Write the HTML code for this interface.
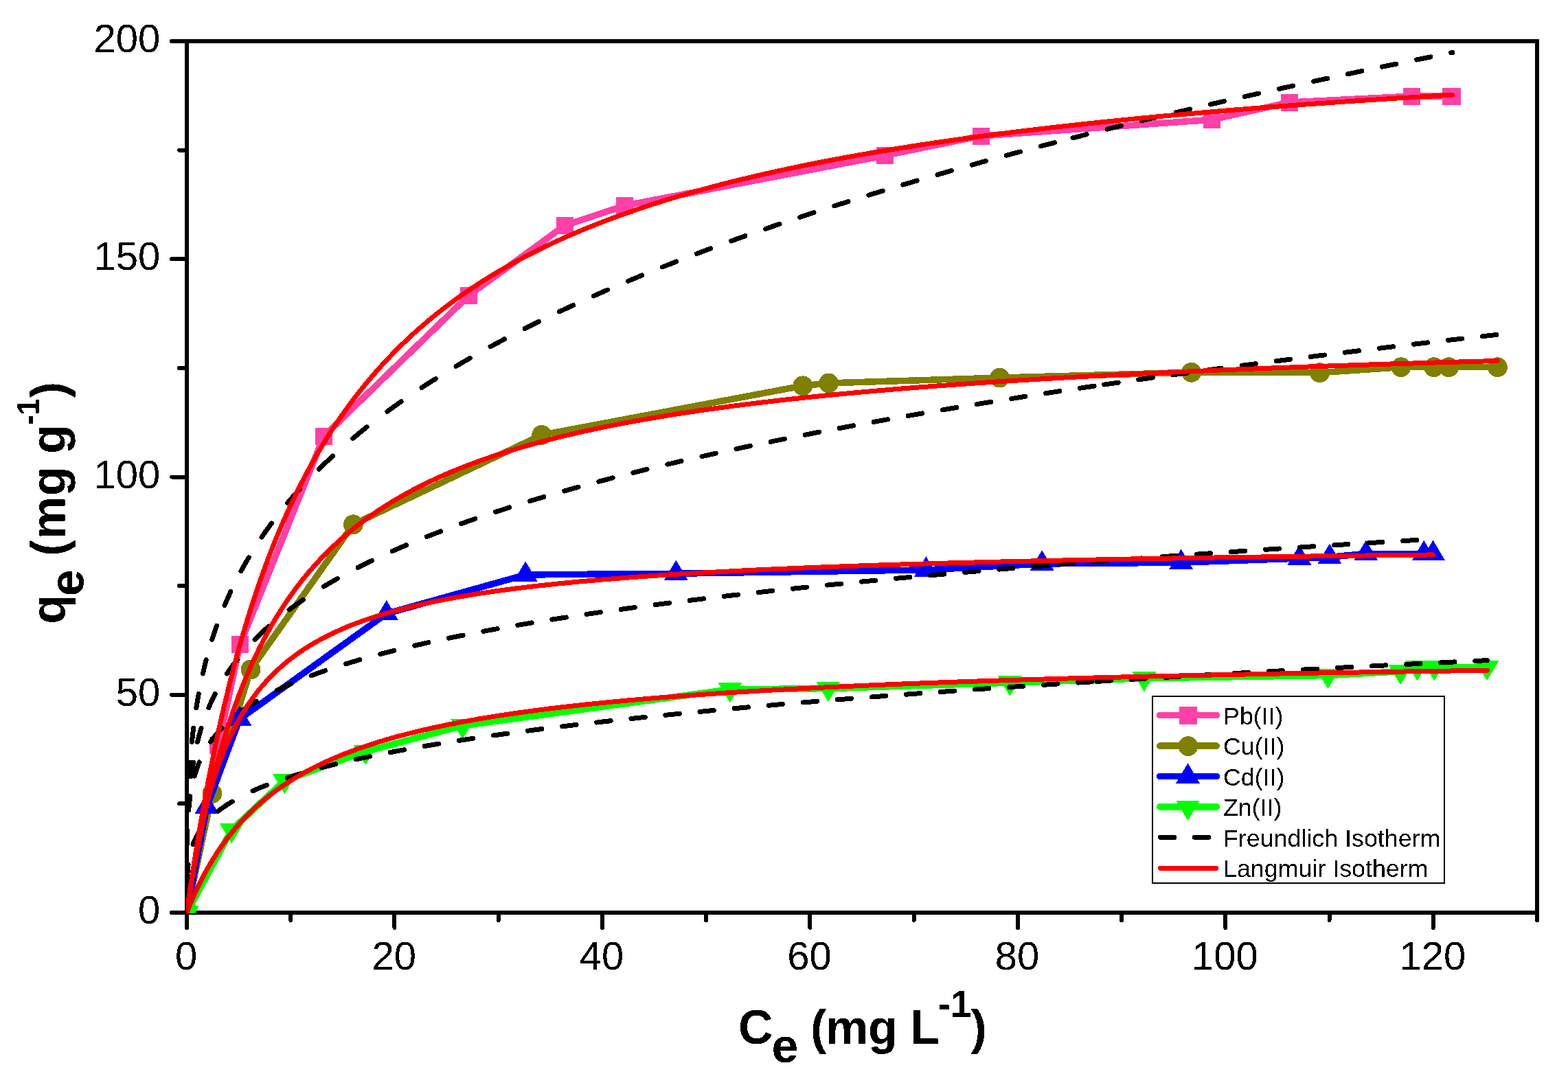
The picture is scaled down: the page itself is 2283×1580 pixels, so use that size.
<!DOCTYPE html>
<html lang="en"><head><meta charset="utf-8"><title>Adsorption isotherms</title>
<style>html,body{margin:0;padding:0;background:#fff}body{width:2283px;height:1580px;overflow:hidden}svg{display:block}text{font-family:"Liberation Sans",Arial,Helvetica,sans-serif;fill:#000}.tk{font-size:58px}.lg{font-size:35.8px}.ti{font-size:70px;font-weight:bold}</style>
</head><body>
<svg xmlns="http://www.w3.org/2000/svg" width="2283" height="1580" viewBox="0 0 2283 1580">
<rect width="2283" height="1580" fill="#fff"/>
<defs><filter id="bin" filterUnits="userSpaceOnUse" x="0" y="0" width="2283" height="1580" color-interpolation-filters="sRGB"><feComponentTransfer><feFuncA type="discrete" tableValues="0 1"/></feComponentTransfer></filter></defs>
<defs><clipPath id="cp"><rect x="271" y="60" width="1967" height="1270"/></clipPath></defs>
<g id="axes" stroke="#000" stroke-width="6" fill="none" stroke-linecap="round" stroke-linejoin="round" shape-rendering="crispEdges">
<rect x="272" y="60" width="1966" height="1269" stroke-linejoin="miter"/>
<path d="M272 1329V1351M423.23 1329V1340M574.46 1329V1351M725.69 1329V1340M876.92 1329V1351M1028.15 1329V1340M1179.38 1329V1351M1330.62 1329V1340M1481.85 1329V1351M1633.08 1329V1340M1784.31 1329V1351M1935.54 1329V1340M2086.77 1329V1351M2238 1329V1340M272 1329H250M272 1170.38H261M272 1011.75H250M272 853.12H261M272 694.5H250M272 535.88H261M272 377.25H250M272 218.62H261M272 60H250"/>
</g>
<g id="labels" filter="url(#bin)">
<g class="tk">
<text x="271.2" y="1411.5" text-anchor="middle">0</text>
<text x="573.66" y="1411.5" text-anchor="middle">20</text>
<text x="876.12" y="1411.5" text-anchor="middle">40</text>
<text x="1178.58" y="1411.5" text-anchor="middle">60</text>
<text x="1481.05" y="1411.5" text-anchor="middle">80</text>
<text x="1783.51" y="1411.5" text-anchor="middle">100</text>
<text x="2085.97" y="1411.5" text-anchor="middle">120</text>
<text x="233.3" y="1345.1" text-anchor="end">0</text>
<text x="233.3" y="1027.85" text-anchor="end">50</text>
<text x="233.3" y="710.6" text-anchor="end">100</text>
<text x="233.3" y="393.35" text-anchor="end">150</text>
<text x="233.3" y="76.1" text-anchor="end">200</text>
</g>
<text class="ti" y="1520.3"><tspan x="1075">C</tspan><tspan x="1123.45" dy="26.8">e</tspan><tspan x="1160.44 1179.9 1202.1 1264.1 1305.44 1324.9" dy="-26.8"> (mg L</tspan><tspan x="1365.4 1383.7" dy="-39.6" font-size="55.5">-1</tspan><tspan x="1413.5" dy="39.6">)</tspan></text>
<text class="ti" transform="translate(94.5 914) rotate(-90)" y="0"><tspan x="5.2">q</tspan><tspan x="45.8" dy="26.8">e</tspan><tspan x="84.69 104.15 128.66 191.8 233.54 253" dy="-26.8"> (mg g</tspan><tspan x="295.25 309.3" dy="-38" font-size="44">-1</tspan><tspan x="334.7" dy="38">)</tspan></text>
</g>
<g id="plot" clip-path="url(#cp)" shape-rendering="crispEdges">
<g id="s-pb">
<path d="M272 1329L317.8 1085.8L349.5 938.4L471.5 635.3L682.5 430.3L822 328.6L909.6 299.4L1288.5 226.5L1428 198L1764.2 174.3L1877.4 149L2055.5 140.1L2112.4 140.1L2114.6 140.1" fill="none" stroke="#ff40a6" stroke-width="9.5" stroke-linejoin="round" stroke-linecap="round"/>
<rect x="259.5" y="1316.5" width="25" height="25" fill="#ff40a6"/>
<rect x="305.3" y="1073.3" width="25" height="25" fill="#ff40a6"/>
<rect x="337" y="925.9" width="25" height="25" fill="#ff40a6"/>
<rect x="459" y="622.8" width="25" height="25" fill="#ff40a6"/>
<rect x="670" y="417.8" width="25" height="25" fill="#ff40a6"/>
<rect x="809.5" y="316.1" width="25" height="25" fill="#ff40a6"/>
<rect x="897.1" y="286.9" width="25" height="25" fill="#ff40a6"/>
<rect x="1276" y="214" width="25" height="25" fill="#ff40a6"/>
<rect x="1415.5" y="185.5" width="25" height="25" fill="#ff40a6"/>
<rect x="1751.7" y="161.8" width="25" height="25" fill="#ff40a6"/>
<rect x="1864.9" y="136.5" width="25" height="25" fill="#ff40a6"/>
<rect x="2043" y="127.6" width="25" height="25" fill="#ff40a6"/>
<rect x="2099.9" y="127.6" width="25" height="25" fill="#ff40a6"/>
<rect x="2102.1" y="127.6" width="25" height="25" fill="#ff40a6"/>
</g>
<g id="s-cu">
<path d="M272 1329L309 1155.5L364.9 975.1L514.3 763.8L788.7 633.4L1168.9 561.8L1206.5 557.9L1455.5 550.1L1734.6 542.3L1921.5 542.7L2039.9 534.7L2087.7 534.7L2109.4 534.7L2180.4 534.7" fill="none" stroke="#808000" stroke-width="9.5" stroke-linejoin="round" stroke-linecap="round"/>
<circle cx="272" cy="1329" r="14.4" fill="#808000"/>
<circle cx="309" cy="1155.5" r="14.4" fill="#808000"/>
<circle cx="364.9" cy="975.1" r="14.4" fill="#808000"/>
<circle cx="514.3" cy="763.8" r="14.4" fill="#808000"/>
<circle cx="788.7" cy="633.4" r="14.4" fill="#808000"/>
<circle cx="1168.9" cy="561.8" r="14.4" fill="#808000"/>
<circle cx="1206.5" cy="557.9" r="14.4" fill="#808000"/>
<circle cx="1455.5" cy="550.1" r="14.4" fill="#808000"/>
<circle cx="1734.6" cy="542.3" r="14.4" fill="#808000"/>
<circle cx="1921.5" cy="542.7" r="14.4" fill="#808000"/>
<circle cx="2039.9" cy="534.7" r="14.4" fill="#808000"/>
<circle cx="2087.7" cy="534.7" r="14.4" fill="#808000"/>
<circle cx="2109.4" cy="534.7" r="14.4" fill="#808000"/>
<circle cx="2180.4" cy="534.7" r="14.4" fill="#808000"/>
</g>
<g id="s-cd">
<path d="M272 1329L301 1175.1L348.9 1047.1L562.7 893.6L765.1 837L984.3 835.2L1348.4 829.9L1517.1 821L1719.6 819.2L1891.9 813.1L1935.9 811.3L1988.8 806.3L2073.2 806.3L2086.5 806.3" fill="none" stroke="#0000ff" stroke-width="9.5" stroke-linejoin="round" stroke-linecap="round"/>
<path d="M254.5 1338.8L289.5 1338.8L272 1309.4Z" fill="#0000ff"/>
<path d="M283.5 1184.9L318.5 1184.9L301 1155.5Z" fill="#0000ff"/>
<path d="M331.4 1056.9L366.4 1056.9L348.9 1027.5Z" fill="#0000ff"/>
<path d="M545.2 903.4L580.2 903.4L562.7 874Z" fill="#0000ff"/>
<path d="M747.6 846.8L782.6 846.8L765.1 817.4Z" fill="#0000ff"/>
<path d="M966.8 845L1001.8 845L984.3 815.6Z" fill="#0000ff"/>
<path d="M1330.9 839.7L1365.9 839.7L1348.4 810.3Z" fill="#0000ff"/>
<path d="M1499.6 830.8L1534.6 830.8L1517.1 801.4Z" fill="#0000ff"/>
<path d="M1702.1 829L1737.1 829L1719.6 799.6Z" fill="#0000ff"/>
<path d="M1874.4 822.9L1909.4 822.9L1891.9 793.5Z" fill="#0000ff"/>
<path d="M1918.4 821.1L1953.4 821.1L1935.9 791.7Z" fill="#0000ff"/>
<path d="M1971.3 816.1L2006.3 816.1L1988.8 786.7Z" fill="#0000ff"/>
<path d="M2055.7 816.1L2090.7 816.1L2073.2 786.7Z" fill="#0000ff"/>
<path d="M2069 816.1L2104 816.1L2086.5 786.7Z" fill="#0000ff"/>
</g>
<g id="s-zn">
<path d="M272 1329L337.2 1208.7L414.3 1136.7L532.1 1094.4L673.6 1056.8L1062.9 1003.9L1206 1002.6L1470.4 994.2L1666 987.8L1933.5 983.5L2039 977.7L2063.5 971.7L2088.3 971.7L2165 971.7" fill="none" stroke="#00ff00" stroke-width="9.5" stroke-linejoin="round" stroke-linecap="round"/>
<path d="M254.5 1319.2L289.5 1319.2L272 1348.6Z" fill="#00ff00"/>
<path d="M319.7 1198.9L354.7 1198.9L337.2 1228.3Z" fill="#00ff00"/>
<path d="M396.8 1126.9L431.8 1126.9L414.3 1156.3Z" fill="#00ff00"/>
<path d="M514.6 1084.6L549.6 1084.6L532.1 1114Z" fill="#00ff00"/>
<path d="M656.1 1047L691.1 1047L673.6 1076.4Z" fill="#00ff00"/>
<path d="M1045.4 994.1L1080.4 994.1L1062.9 1023.5Z" fill="#00ff00"/>
<path d="M1188.5 992.8L1223.5 992.8L1206 1022.2Z" fill="#00ff00"/>
<path d="M1452.9 984.4L1487.9 984.4L1470.4 1013.8Z" fill="#00ff00"/>
<path d="M1648.5 978L1683.5 978L1666 1007.4Z" fill="#00ff00"/>
<path d="M1916 973.7L1951 973.7L1933.5 1003.1Z" fill="#00ff00"/>
<path d="M2021.5 967.9L2056.5 967.9L2039 997.3Z" fill="#00ff00"/>
<path d="M2046 961.9L2081 961.9L2063.5 991.3Z" fill="#00ff00"/>
<path d="M2070.8 961.9L2105.8 961.9L2088.3 991.3Z" fill="#00ff00"/>
<path d="M2147.5 961.9L2182.5 961.9L2165 991.3Z" fill="#00ff00"/>
</g>
<g id="freundlich" fill="none" stroke="#000" stroke-width="7" stroke-linecap="round" stroke-linejoin="round">
<path d="M272 1329L272 1308.87M272.03 1279.29L272.1 1259.16M272.33 1229.58L272.61 1209.45M273.3 1179.87L274 1159.74M275.46 1130.16L276.81 1110.03M279.4 1080.45L280.51 1070.14L281.66 1060.32M285.79 1030.74L287.47 1020.51L289.23 1010.61M295.33 981.03L297.71 970.98L300.27 960.9M308.8 931.32L312.13 921.09L315.55 911.19M326.99 881.61L331.4 871.39L335.9 861.48M350.78 831.9L356.37 821.8L362.2 811.77M381.04 782.19L388.18 771.94L395.36 762.06M418.7 732.51L427.37 722.38L436.29 712.37M464.24 683.31L474.21 673.68L484.52 664.05M513.82 638.39L523.7 630.24L534.1 621.9M563.89 599.23L574.01 591.9L584.17 584.72M613.96 564.56L624.15 557.95L634.24 551.54M664.03 533.32L684.31 521.47M714.1 504.78L734.38 493.88M764.17 478.45L784.45 468.32M814.24 453.95L834.52 444.48M864.31 430.99L884.59 422.09M914.38 409.38L934.66 400.96M964.45 388.92L984.73 380.93M1014.52 369.48L1034.8 361.87M1064.59 350.95L1084.87 343.68M1114.66 333.23L1134.94 326.26M1164.73 316.24L1185.01 309.55M1214.8 299.91L1235.08 293.47M1264.87 284.18L1285.15 277.97M1314.94 269L1335.22 263M1365.01 254.33L1385.29 248.52M1415.08 240.12L1435.36 234.5M1465.15 226.35L1485.43 220.89M1515.22 212.99L1535.5 207.68M1562 200.84L1582.28 195.67M1612.07 188.17L1632.35 183.14M1662.14 175.84L1682.42 170.93M1712.21 163.81L1732.49 159.03M1762.28 152.08L1782.56 147.41M1812.35 140.63L1832.63 136.06M1862.42 129.43L1882.7 124.97M1912.49 118.48L1932.77 114.11M1962.56 107.77L1982.84 103.49M2012.63 97.27L2032.91 93.08M2062.7 86.99L2082.98 82.88M2112.77 76.91L2114.75 76.51"/>
<path d="M272 1329L272 1308.87M272.03 1279.29L272.1 1259.16M272.42 1229.58L272.86 1209.45M274.06 1179.87L274.68 1169.65L275.4 1159.74M278.42 1130.16L279.82 1120.01L281.4 1110.03M287.49 1080.45L290.18 1070.16L293.07 1060.32M303.81 1030.74L306.03 1025.61L308.32 1020.55L310.72 1015.51L313.17 1010.61M330.45 981.03L333.95 975.87L337.51 970.83L341.21 965.81L344.98 960.9M371.04 931.28L375.89 926.43L380.9 921.6L386.08 916.78L391.28 912.09M421.12 887.83L430.99 880.6L441.4 873.34M471.19 854.24L481.08 848.37L491.47 842.43M521.26 826.48L531.15 821.5L541.54 816.42M571.33 802.62L591.61 793.8M621.4 781.58L641.68 773.7M671.47 762.68L691.75 755.53M721.54 745.48L741.82 738.92M771.61 729.65L791.89 723.58M821.68 714.97L841.96 709.31M871.75 701.26L892.03 695.94M921.82 688.37L942.1 683.36M971.89 676.21L992.17 671.46M1021.96 664.68L1042.24 660.17M1072.03 653.71L1092.31 649.41M1122.1 643.24L1142.38 639.13M1172.17 633.22L1192.45 629.28M1222.24 623.61L1242.52 619.82M1272.31 614.37L1292.59 610.73M1322.38 605.47L1342.66 601.96M1372.45 596.88L1392.73 593.49M1422.52 588.58L1442.8 585.29M1472.59 580.54L1492.87 577.36M1522.66 572.75L1542.94 569.67M1572.73 565.19L1593.01 562.19M1607.8 560.03L1628.08 557.09M1657.87 552.82L1678.15 549.96M1707.94 545.81L1728.22 543.02M1758.01 538.98L1778.29 536.26M1808.08 532.32L1828.36 529.66M1858.15 525.81L1878.43 523.22M1908.22 519.46L1928.5 516.93M1958.29 513.26L1978.57 510.78M2008.36 507.19L2028.64 504.76M2058.43 501.24L2078.71 498.87M2108.5 495.42L2128.78 493.1M2158.57 489.72L2178.85 487.45"/>
<path d="M272 1329L272 1308.87M272.01 1279.29L272.06 1259.16M272.33 1229.58L272.85 1209.45M274.59 1179.87L275.65 1169.44L276.92 1159.74M283.12 1130.16L284.69 1124.91L286.35 1119.89L288.15 1114.96L290.13 1110.03M306.52 1080.31L310.36 1075.08L314.34 1070.08L318.58 1065.14L323.19 1060.18M353.19 1034.54L358.07 1031.12L362.98 1027.84L368.07 1024.58L373.47 1021.28M403.38 1005.16L413.26 1000.49L423.66 995.85M453.45 983.83L463.41 980.17L473.73 976.53M503.52 966.81L523.8 960.75M553.59 952.53L573.87 947.32M603.66 940.16L623.94 935.57M653.73 929.2L674.01 925.1M703.8 919.35L724.08 915.62M753.87 910.38L774.15 906.95M803.94 902.12L824.22 898.95M854.01 894.47L874.29 891.52M904.08 887.32L924.36 884.56M954.15 880.62L974.43 878.02M1004.22 874.3L1024.5 871.84M1054.29 868.32L1074.57 865.99M1104.36 862.64L1124.64 860.42M1154.43 857.23L1174.71 855.11M1204.5 852.06L1224.78 850.03M1254.57 847.1L1274.85 845.16M1304.64 842.35L1324.92 840.48M1354.71 837.78L1374.99 835.97M1404.78 833.37L1425.06 831.63M1454.85 829.12L1475.13 827.43M1504.92 825.01L1525.2 823.38M1542 822.05L1562.28 820.46M1592.07 818.16L1612.35 816.62M1642.14 814.39L1662.42 812.89M1692.21 810.73L1712.49 809.27M1742.28 807.17L1762.56 805.75M1792.35 803.7L1812.63 802.33M1842.42 800.33L1862.7 798.99M1892.49 797.04L1912.77 795.73M1942.56 793.83L1962.84 792.56M1992.63 790.7L2012.91 789.46M2042.7 787.64L2062.98 786.42"/>
<path d="M272 1329L272.01 1308.87M272.53 1279.29L273.17 1268.64L273.61 1263.78L274.13 1259.16M281.04 1229.54L283.18 1224.25L285.56 1219.19L288.25 1214.22L291.22 1209.41M317.92 1181.04L322.61 1177.47L327.46 1174.05L332.74 1170.56L338.2 1167.2M368.1 1151.76L377.96 1147.47L388.38 1143.26M418.17 1132.62L428.12 1129.43L438.45 1126.28M468.24 1117.95L488.52 1112.82M518.31 1105.89L538.59 1101.54M568.38 1095.57L588.66 1091.76M618.45 1086.49L638.73 1083.09M668.52 1078.35L688.8 1075.27M718.59 1070.95L738.87 1068.14M768.66 1064.16L788.94 1061.56M818.73 1057.87L839.01 1055.44M868.8 1052L889.08 1049.72M918.87 1046.49L939.15 1044.35M968.94 1041.29L989.22 1039.26M1019.01 1036.37L1039.29 1034.44M1069.08 1031.69L1089.36 1029.86M1119.15 1027.23L1139.43 1025.48M1169.22 1022.96L1189.5 1021.28M1219.29 1018.87L1239.57 1017.26M1269.36 1014.94L1289.64 1013.39M1319.43 1011.16L1339.71 1009.66M1369.5 1007.51L1389.78 1006.06M1419.57 1003.98L1439.85 1002.58M1469.64 1000.57L1489.92 999.22M1519.71 997.26L1539.99 995.95M1569.78 994.06L1590.06 992.78M1597 992.35L1617.28 991.1M1647.07 989.28L1667.35 988.07M1697.14 986.3L1717.42 985.12M1747.21 983.4L1767.49 982.24M1797.28 980.56L1817.56 979.44M1847.35 977.8L1867.63 976.7M1897.42 975.1L1917.7 974.03M1947.49 972.47L1967.77 971.42M1997.56 969.89L2017.84 968.87M2047.63 967.37L2067.91 966.37M2097.7 964.91L2117.98 963.92M2147.77 962.49L2165.41 961.65"/>
</g>
<g id="langmuir" fill="none" stroke="#ff0000" stroke-width="7" stroke-linecap="round" stroke-linejoin="round">
<path d="M272 1329L275.46 1304.64L279 1280.62L282.63 1256.89L286.3 1233.76L290.06 1211.01L293.84 1188.95L297.69 1167.34L301.72 1145.49L305.65 1125.03L309.91 1103.67L313.91 1084.31L318.19 1064.37L322.42 1045.41L326.9 1026.06L331.63 1006.37L336.24 987.95L341.07 969.33L345.71 952.13L350.56 934.82L355.61 917.44L360.87 900.03L365.85 884.18L371 868.35L376.34 852.55L381.87 836.79L387.01 822.67L392.91 807.07L398.39 793.11L404.66 777.71L410.49 763.96L416.48 750.32L422.64 736.81L428.97 723.43L435.48 710.19L442.17 697.1L448.26 685.6L455.29 672.8L462.51 660.18L469.91 647.72L476.64 636.8L484.4 624.68L491.46 614.06L499.59 602.28L506.98 591.98L515.48 580.56L523.21 570.57L531.1 560.73L539.16 551.05L548.42 540.33L556.83 530.97L565.4 521.77L574.15 512.71L584.2 502.71L593.31 493.98L602.6 485.4L612.07 476.97L622.93 467.66L632.78 459.55L642.82 451.58L653.03 443.76L663.44 436.08L674.03 428.54L684.81 421.15L697.16 413L708.35 405.89L719.73 398.93L731.31 392.1L744.57 384.57L756.58 378.01L768.78 371.58L781.19 365.28L795.39 358.34L808.23 352.3L822.93 345.64L836.22 339.85L851.42 333.48L865.16 327.93L880.88 321.82L895.08 316.5L911.31 310.65L925.98 305.55L942.75 299.95L957.89 295.07L975.2 289.7L990.83 285.03L1008.68 279.89L1026.83 274.86L1045.27 269.95L1061.91 265.68L1080.92 260.97L1100.23 256.37L1119.85 251.88L1137.54 247.97L1157.74 243.66L1178.25 239.46L1199.07 235.34L1220.21 231.32L1241.67 227.39L1263.45 223.55L1285.56 219.79L1307.99 216.12L1330.74 212.53L1353.83 209.02L1379.88 205.21L1403.68 201.86L1427.81 198.59L1452.29 195.39L1479.88 191.91L1505.09 188.86L1533.5 185.54L1559.44 182.62L1588.67 179.46L1615.36 176.68L1645.44 173.65L1675.96 170.7L1706.92 167.82L1767.01 162.54L1799.3 159.86L1832.05 157.23L1898.95 152.17L1967.73 147.34L2038.43 142.74L2114.75 138.12"/>
<path d="M272 1329L274.88 1310.4L277.78 1292.44L280.73 1274.94L283.76 1257.73L286.81 1241.12L290.01 1224.46L293.26 1208.27L296.45 1193L299.72 1178.01L303.03 1163.49L306.58 1148.5L310.12 1134.23L313.89 1119.66L317.59 1106L321.49 1092.17L325.26 1079.37L329.22 1066.5L333.37 1053.58L337.71 1040.63L341.84 1028.86L346.13 1017.12L350.59 1005.42L355.23 993.78L359.56 983.36L364.55 971.88L369.19 961.63L373.99 951.47L378.94 941.42L384.05 931.48L389.32 921.66L394.75 911.96L400.35 902.4L406.11 892.97L412.05 883.69L418.15 874.55L423.73 866.55L430.17 857.7L436.05 849.97L442.83 841.42L449.01 833.95L456.14 825.7L462.64 818.5L470.13 810.56L476.96 803.64L484.82 796L491.97 789.35L499.28 782.83L506.75 776.44L515.35 769.39L523.17 763.27L531.15 757.26L539.3 751.38L547.62 745.63L556.11 739.99L564.78 734.47L574.73 728.4L583.77 723.13L592.98 717.97L602.38 712.93L613.16 707.38L622.94 702.57L634.17 697.28L644.35 692.69L656.02 687.65L666.6 683.27L678.74 678.47L689.73 674.3L702.33 669.72L713.74 665.75L726.82 661.39L738.66 657.6L752.22 653.45L764.49 649.85L778.55 645.89L792.87 642.04L807.46 638.28L820.65 635.03L835.75 631.45L851.13 627.97L866.78 624.57L882.71 621.26L898.92 618.04L915.42 614.9L932.2 611.84L949.27 608.85L966.64 605.94L984.3 603.11L1004.27 600.04L1022.56 597.36L1041.15 594.74L1060.04 592.19L1081.4 589.43L1100.95 587.01L1123.03 584.39L1143.24 582.1L1166.07 579.62L1210.53 575.09L1258.89 570.57L1306.36 566.5L1357.94 562.44L1411.2 558.59L1468.98 554.77L1525.79 551.32L1587.34 547.89L1650.88 544.64L1716.43 541.57L1784.03 538.65L1857.07 535.76L1932.43 533.03L2010.14 530.44L2093.93 527.87L2180.38 525.45"/>
<path d="M272 1329L275.69 1302L277.65 1288.72L279.62 1276.03L281.67 1263.5L283.68 1251.84L285.8 1240.1L288.02 1228.49L290.29 1217.19L292.58 1206.35L294.85 1196.11L297.29 1185.68L299.9 1175.11L302.44 1165.33L305.13 1155.5L307.71 1146.54L310.43 1137.59L313.27 1128.66L316.25 1119.78L319.06 1111.84L322.31 1103.1L325.36 1095.31L328.53 1087.61L331.83 1080.01L335.25 1072.52L338.8 1065.14L342.48 1057.89L345.86 1051.54L349.8 1044.54L353.41 1038.42L357.6 1031.67L361.45 1025.8L365.91 1019.32L370 1013.69L374.21 1008.18L378.53 1002.79L383.54 996.86L388.13 991.71L392.83 986.69L397.67 981.78L403.25 976.4L408.36 971.74L413.6 967.19L418.96 962.75L424.47 958.43L430.1 954.21L435.88 950.11L442.54 945.61L448.61 941.73L454.83 937.95L461.19 934.27L468.51 930.24L475.18 926.76L482.87 922.96L489.86 919.68L497.9 916.1L505.22 913L513.64 909.62L521.29 906.7L530.08 903.51L538.08 900.76L547.26 897.76L555.6 895.16L565.18 892.33L573.88 889.89L583.87 887.22L594.08 884.63L604.5 882.12L615.15 879.69L626.02 877.33L637.13 875.05L648.46 872.83L660.02 870.68L671.82 868.6L683.85 866.58L697.5 864.41L722.83 860.68L750.63 856.99L779.55 853.52L809.62 850.27L840.85 847.21L875.01 844.19L910.5 841.36L947.37 838.71L987.57 836.1L1029.34 833.66L1072.71 831.38L1117.7 829.23L1166.6 827.13L1217.36 825.16L1270 823.31L1327.09 821.51L1386.31 819.82L1450.43 818.17L1516.96 816.63L1585.95 815.19L1657.44 813.84L1734.62 812.53L1814.61 811.3L1900.85 810.1L1990.24 808.98L2086.47 807.9"/>
<path d="M272 1329L275.06 1321.31L278.22 1313.67L281.41 1306.28L284.72 1298.94L288.07 1291.77L291.44 1284.89L294.84 1278.2L298.39 1271.49L302.06 1264.85L305.79 1258.36L309.54 1252.1L313.27 1246.14L317.23 1240.05L321.1 1234.32L325.19 1228.52L329.51 1222.65L334.04 1216.74L338.41 1211.28L342.97 1205.81L347.3 1200.83L351.8 1195.86L356.47 1190.89L361.32 1185.94L366.36 1181.01L371.58 1176.11L376.44 1171.74L382.03 1166.91L387.22 1162.61L392.57 1158.34L398.09 1154.13L403.77 1149.95L409.62 1145.83L415.65 1141.76L421.84 1137.75L428.21 1133.79L434.02 1130.32L440.73 1126.47L446.85 1123.11L453.9 1119.38L460.33 1116.11L467.74 1112.5L474.49 1109.35L482.27 1105.86L489.35 1102.82L497.5 1099.46L504.91 1096.52L512.48 1093.64L520.22 1090.81L529.12 1087.69L537.21 1084.97L553.89 1079.68L571.25 1074.59L580.19 1072.12L590.47 1069.4L609.29 1064.72L630.08 1059.95L651.71 1055.39L674.2 1051.03L697.55 1046.86L721.8 1042.88L746.95 1039.07L773.01 1035.44L800.02 1031.97L827.98 1028.66L856.9 1025.5L888.61 1022.32L919.59 1019.45L953.5 1016.55L988.57 1013.8L1024.83 1011.17L1062.29 1008.68L1100.98 1006.3L1140.9 1004.04L1184.42 1001.76L1229.36 999.6L1275.75 997.55L1323.62 995.6L1372.99 993.74L1423.88 991.97L1479.12 990.21L1536.09 988.53L1594.83 986.93L1655.36 985.42L1720.88 983.91L1788.44 982.48L1858.06 981.12L1929.78 979.83L2007.2 978.54L2165.41 976.23"/>
</g>
</g>
<g id="legend" shape-rendering="crispEdges">
<rect x="1678" y="1014" width="425" height="272" fill="#fff" stroke="#000" stroke-width="2"/>
<path d="M1688.7 1041.5H1771.3" stroke="#ff40a6" stroke-width="9.5" stroke-linecap="round" fill="none"/>
<rect x="1717" y="1029" width="26" height="26" fill="#ff40a6"/>
<path d="M1688.7 1086.1H1771.3" stroke="#808000" stroke-width="9.5" stroke-linecap="round" fill="none"/>
<circle cx="1730" cy="1086.6" r="14.4" fill="#808000"/>
<path d="M1688.7 1130.5H1771.3" stroke="#0000ff" stroke-width="9.5" stroke-linecap="round" fill="none"/>
<path d="M1712 1140.8L1747 1140.8L1729.5 1111.4Z" fill="#0000ff"/>
<path d="M1688.7 1174.9H1771.3" stroke="#00ff00" stroke-width="9.5" stroke-linecap="round" fill="none"/>
<path d="M1712 1165.6L1747 1165.6L1729.5 1195Z" fill="#00ff00"/>
<path d="M1689.5 1219.4H1709.7M1739.4 1219.4H1759.6" stroke="#000" stroke-width="7" stroke-linecap="round" fill="none"/>
<path d="M1689.5 1264.4H1770.6" stroke="#ff0000" stroke-width="7" stroke-linecap="round" fill="none"/>
</g>
<g class="lg" filter="url(#bin)">
<text x="1781" y="1054.7">Pb(II)</text>
<text x="1781" y="1099.3">Cu(II)</text>
<text x="1781" y="1143.8">Cd(II)</text>
<text x="1781" y="1188">Zn(II)</text>
<text x="1781" y="1232.9">Freundlich Isotherm</text>
<text x="1781" y="1276.9">Langmuir Isotherm</text>
</g>
</svg></body></html>
